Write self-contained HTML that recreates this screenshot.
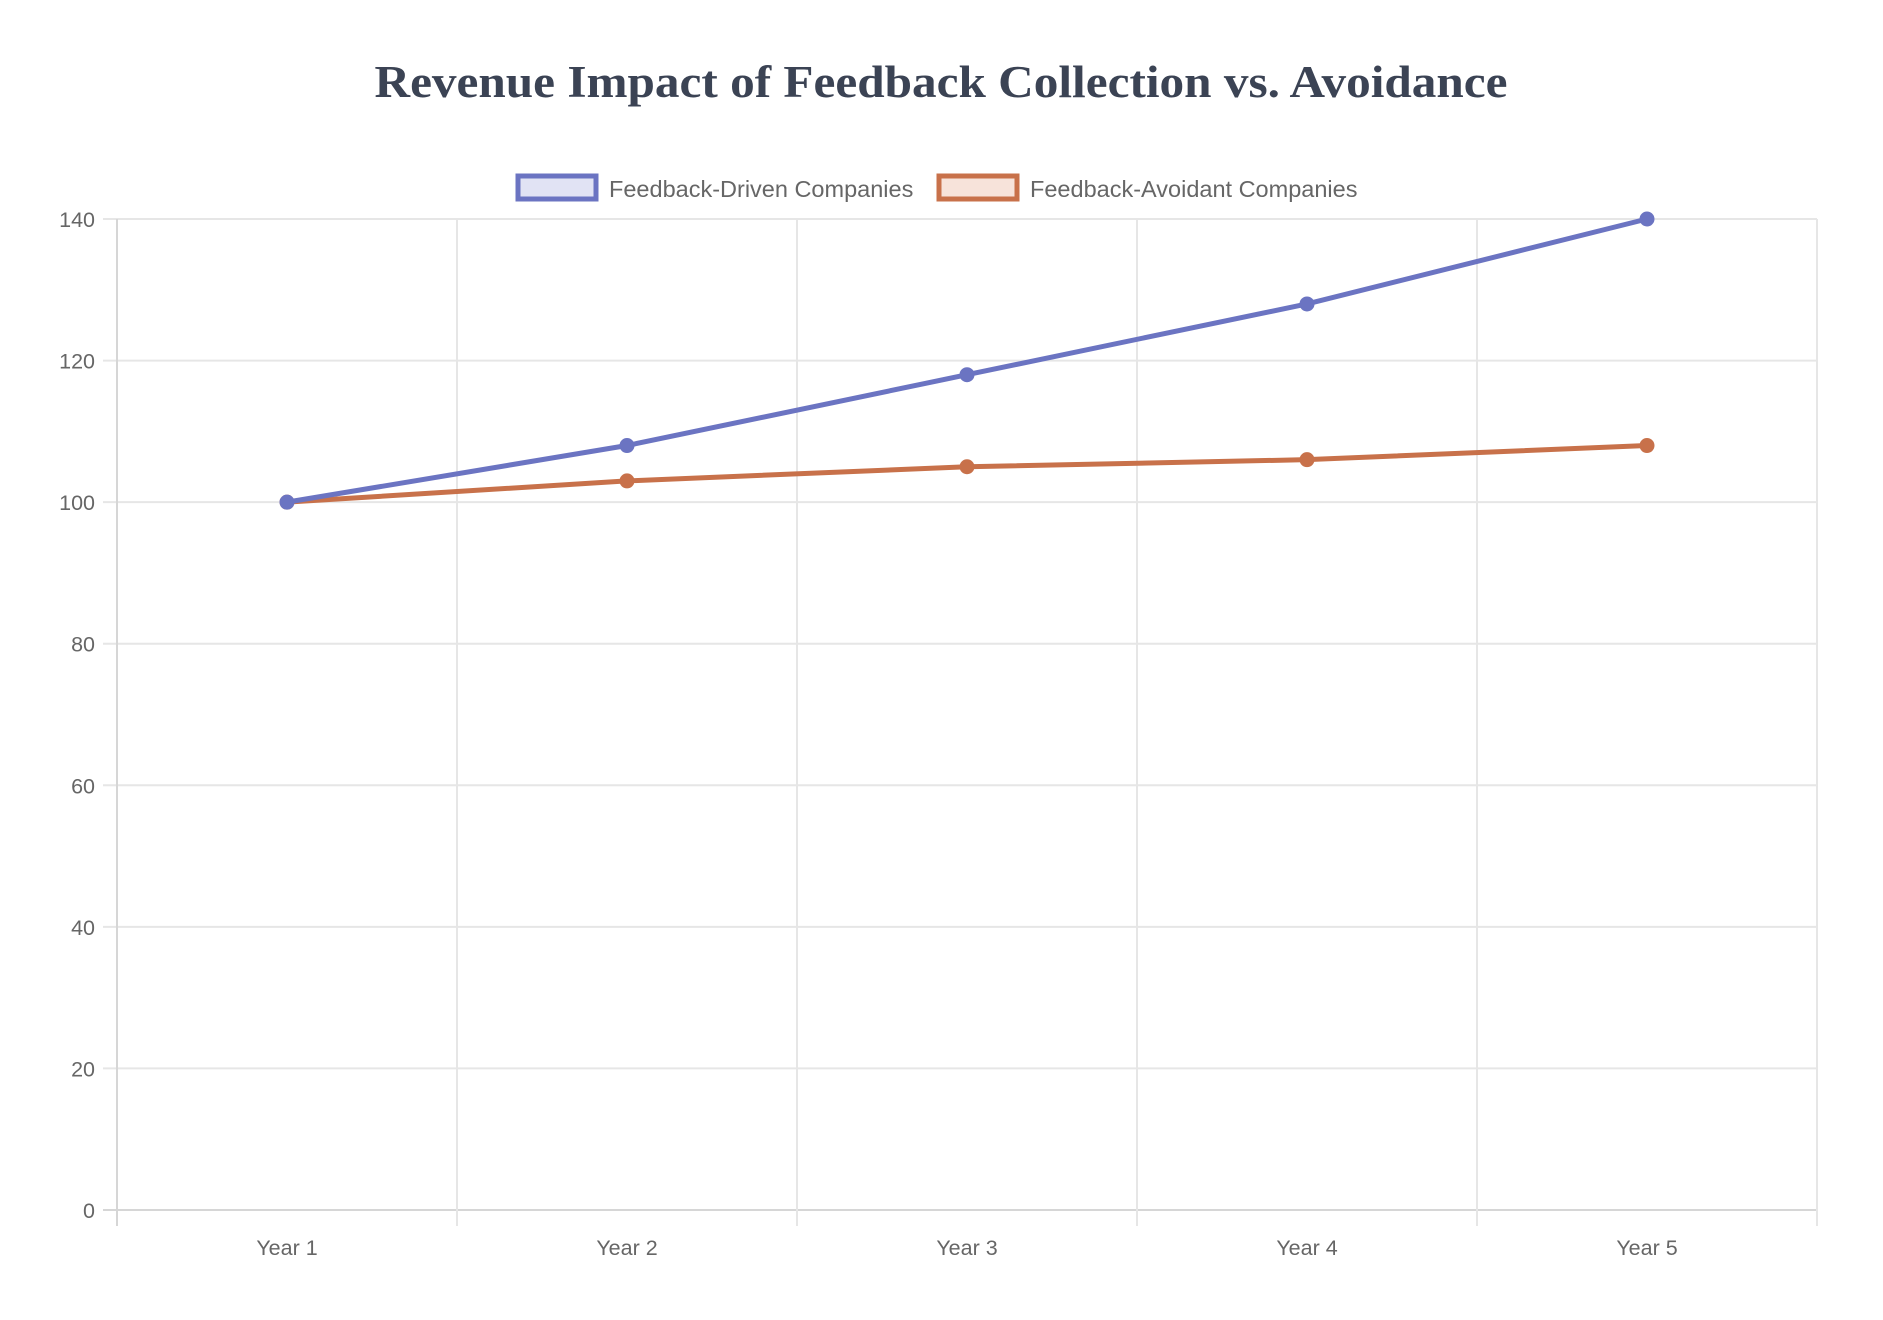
<!DOCTYPE html>
<html><head><meta charset="utf-8"><style>
html,body{margin:0;padding:0;background:#fff;}
svg{display:block;}
text{font-family:"Liberation Sans",Arial,sans-serif;}
</style></head><body>
<svg id="chart" width="1883" height="1320" viewBox="0 0 1883 1320" xmlns="http://www.w3.org/2000/svg">
<text x="941" y="97" text-anchor="middle" textLength="1133" lengthAdjust="spacingAndGlyphs" style="font-family:'Liberation Serif',Georgia,serif;font-weight:bold;font-size:45px;fill:#3b4354">Revenue Impact of Feedback Collection vs. Avoidance</text>
<g>
<g>
<rect x="518" y="176" width="78" height="23" fill="#e1e3f4" stroke="#6b74c2" stroke-width="5"/>
<text x="609" y="197" font-size="23.5" fill="#666">Feedback-Driven Companies</text>
</g>
<g>
<rect x="939" y="176" width="78" height="23" fill="#f7e3da" stroke="#c8714a" stroke-width="5"/>
<text x="1030" y="197" font-size="23.5" fill="#666">Feedback-Avoidant Companies</text>
</g>
</g>
<g id="grid"></g>
<g id="axes"></g>
<g id="series"></g>
</svg>
<script>
const categories = ["Year 1","Year 2","Year 3","Year 4","Year 5"];
const drivenValues = [100,108,118,128,140];
const avoidantValues = [100,103,105,106,108];
const yTicks = [0,20,40,60,80,100,120,140];

const L=117,R=1817,T=219,B=1210,yMax=140;
const NS="http://www.w3.org/2000/svg";
const cw=(R-L)/categories.length;
function xPos(i){return L+cw*(i+0.5);}
function yPos(v){return B-(v/yMax)*(B-T);}
function mk(tag,attrs,parent){const e=document.createElementNS(NS,tag);for(const k in attrs)e.setAttribute(k,attrs[k]);parent.appendChild(e);return e;}
const grid=document.getElementById('grid'),axes=document.getElementById('axes'),series=document.getElementById('series');

yTicks.forEach(v=>{
  const y=yPos(v);
  const l=mk('line',{x1:L-14,x2:R,y1:y,y2:y,stroke:v===0?'#d6d6d6':'#e6e6e6','stroke-width':2},grid);
  
  
  const t=mk('text',{x:95,y:y+8,'text-anchor':'end','font-size':21.5,fill:'#666'},axes);
  t.textContent=v;
  
  
});
for(let i=0;i<=categories.length;i++){
  const x=L+cw*i;
  const l=mk('line',{x1:x,x2:x,y1:T,y2:B+16,stroke:i===0?'#d6d6d6':'#e6e6e6','stroke-width':2},grid);
  
  
}
categories.forEach((c,i)=>{
  const t=mk('text',{x:xPos(i),y:1255,'text-anchor':'middle','font-size':21.5,fill:'#666'},axes);
  t.textContent=c;
  
  
});
function drawSeries(vals,color,name){
  const g=mk('g',{},series);
  
  
  const p=mk('polyline',{points:vals.map((v,i)=>xPos(i)+','+yPos(v)).join(' '),fill:'none',stroke:color,'stroke-width':5,'stroke-linejoin':'round'},g);
  
  
  vals.forEach((v,i)=>{
    const c=mk('circle',{cx:xPos(i),cy:yPos(v),r:6,fill:color,stroke:color,'stroke-width':3},g);
    
    
  });
}
drawSeries(avoidantValues,'#c8714a','feedback-avoidant-series');
drawSeries(drivenValues,'#6b74c2','feedback-driven-series');
</script>
</body></html>
